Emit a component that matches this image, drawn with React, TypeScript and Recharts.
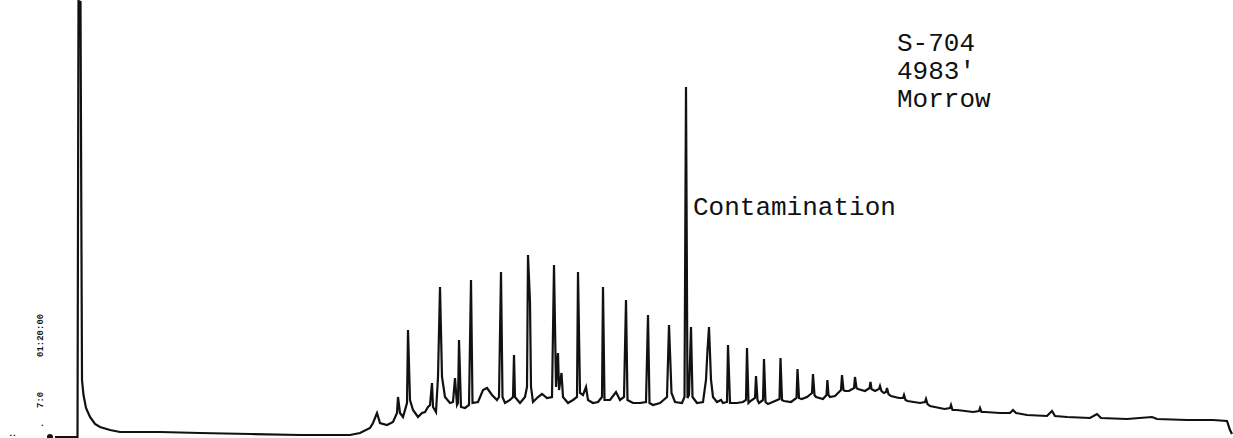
import React from 'react'
import { LineChart, Line, XAxis, YAxis } from 'recharts'

// trace: [retention, detector response]
const SOLVENT_PEAK: [number, number][] = [
  [50, 1], [77, 1], [77.5, 1], [78.5, 437], [80.5, 436], [82, 58], [83.5, 43],
  [86, 30], [90, 21], [95, 14], [100, 11], [110, 8], [120, 6], [140, 6],
  [160, 6], [200, 5], [250, 4], [300, 3], [340, 3], [350, 3], [360, 5],
  [370, 10], [373, 15],
]

const EARLY_ELUTION: [number, number][] = [
  [377, 25], [380, 15], [387, 13], [393, 16], [397, 25], [398, 41], [400, 25],
  [403, 21], [407, 35], [408, 108], [410, 38], [413, 28], [418, 21], [422, 25],
  [425, 26], [428, 31], [430, 33], [432, 55], [433, 31], [436, 26], [438, 61],
  [440, 151], [442, 61], [445, 41], [450, 35], [453, 36], [455, 60], [457, 33],
  [458, 35], [459, 98], [461, 31], [465, 30], [469, 33], [471, 158], [472.5, 35],
  [478, 36], [483, 48], [487, 50], [492, 43], [497, 38],
]

const MID_ELUTION: [number, number][] = [
  [499, 41], [501, 166], [502.5, 41], [505, 35], [510, 38], [513, 41], [514, 83],
  [515, 41], [520, 35], [525, 41], [527, 51], [528, 183], [530, 136], [531, 51],
  [533, 36], [538, 41], [542, 44], [547, 40], [552, 41], [554, 173], [556, 51],
  [558, 85], [559, 48], [561.5, 65], [563, 41], [568, 35], [573, 38], [577, 41],
  [578, 166], [580, 45], [583, 43], [586, 51], [588, 38], [593, 35], [598, 36],
  [602, 41], [603, 151], [604.5, 38], [610, 38], [616, 46], [620, 38], [624, 41],
  [626, 138], [627.5, 38], [633, 35], [640, 35], [646, 36], [648, 123], [649.5, 35],
  [653, 33], [660, 35], [667, 41], [669, 113], [671.5, 45], [675, 36], [682, 35],
  [684.5, 41], [686, 351], [687.5, 40], [689, 43], [691, 111], [692.5, 41],
  [697, 35], [703, 36], [706, 58], [707.5, 88], [709, 111], [711, 58], [713, 41],
  [717, 36], [721, 38], [723, 35], [727, 36], [728, 93], [730, 35], [737, 35],
  [743, 36], [746, 38], [747, 90], [748.5, 35],
]

const LATE_ELUTION: [number, number][] = [
  [750.5, 37], [755, 40], [756, 62], [757.5, 38], [759, 35], [763, 38], [764, 79],
  [765.5, 36], [768, 34], [775, 37], [779.5, 39], [780.5, 80], [782, 38], [784, 37],
  [791, 36], [796.5, 40], [797.5, 69], [799, 40], [801.7, 39], [807, 41], [812, 45],
  [813, 64], [814.5, 43], [816, 41], [823, 39], [826.5, 43], [827.4, 58], [828.5, 43],
  [830, 41], [835, 42], [841, 48], [842, 63], [843.5, 48], [845, 47], [849, 47],
  [854, 50], [855, 61], [856.5, 50], [858, 49], [865, 47], [869.5, 50], [870.5, 56],
  [871.5, 49], [875, 47], [879, 49], [880, 52], [881.5, 47], [884, 45], [886, 46],
  [887, 50], [888.5, 44], [891, 42], [899, 40], [903, 40], [904, 43], [905.5, 38],
  [907.5, 37], [920, 35], [925, 36], [926, 39], [927.5, 34], [930, 32], [944.5, 29],
  [950, 30], [951, 33], [952.5, 28], [957, 28], [973, 26], [979, 27], [980, 30],
  [981.5, 26], [985, 26], [1000, 25],
]

const TAIL: [number, number][] = [
  [1010, 25], [1013, 28], [1016, 25], [1027, 23], [1047, 22], [1052, 27], [1055, 22],
  [1067, 21], [1090, 20], [1097, 24], [1101, 20], [1127, 19], [1152, 21], [1157, 19],
  [1187, 18], [1213, 18], [1227, 17], [1230, 8], [1232, 4],
]

const SAMPLE_LABEL = ['S-704', "4983'", 'Morrow']
const PEAK_NOTE = 'Contamination'
const TIMER_MARKS = ['01:20:00', '7:0', '.']

const W = 1233
const H = 438
const MONO = '"Liberation Mono", "DejaVu Sans Mono", monospace'

const data = [...SOLVENT_PEAK, ...EARLY_ELUTION, ...MID_ELUTION, ...LATE_ELUTION, ...TAIL]
  .map(([t, v]) => ({ t, v }))

const App: React.FC = () => {
  return (
    <div style={{ position: 'absolute', left: 0, top: 0, width: W, height: H, background: '#fff' }}>
      <LineChart width={W} height={H} data={data} margin={{ top: 0, right: 0, bottom: 0, left: 0 }}>
        <XAxis dataKey="t" type="number" domain={[0, W]} hide />
        <YAxis type="number" domain={[0, H]} hide allowDataOverflow />
        <Line
          type="linear"
          dataKey="v"
          stroke="#111"
          strokeWidth={2.2}
          dot={false}
          isAnimationActive={false}
        />
      </LineChart>

      {/* typed notes on the strip */}
      <svg width={W} height={H} style={{ position: 'absolute', left: 0, top: 0, pointerEvents: 'none' }}>
        <g fontFamily={MONO} fontSize={26} fill="#111">
          {SAMPLE_LABEL.map((s, i) => (
            <text key={s} x={897} y={51 + i * 28}>{s}</text>
          ))}
          <text x={693} y={215}>{PEAK_NOTE}</text>
        </g>
        <g fontFamily={MONO} fontSize={9} fontWeight={700} fill="#111">
          <text transform="translate(43,357) rotate(-90)">{TIMER_MARKS[0]}</text>
          <text transform="translate(43,408) rotate(-90)">{TIMER_MARKS[1]}</text>
          <text transform="translate(43,428) rotate(-90)">{TIMER_MARKS[2]}</text>
          <text transform="translate(15,438) rotate(-90)">:</text>
        </g>
      </svg>
    </div>
  )
}

export default App
